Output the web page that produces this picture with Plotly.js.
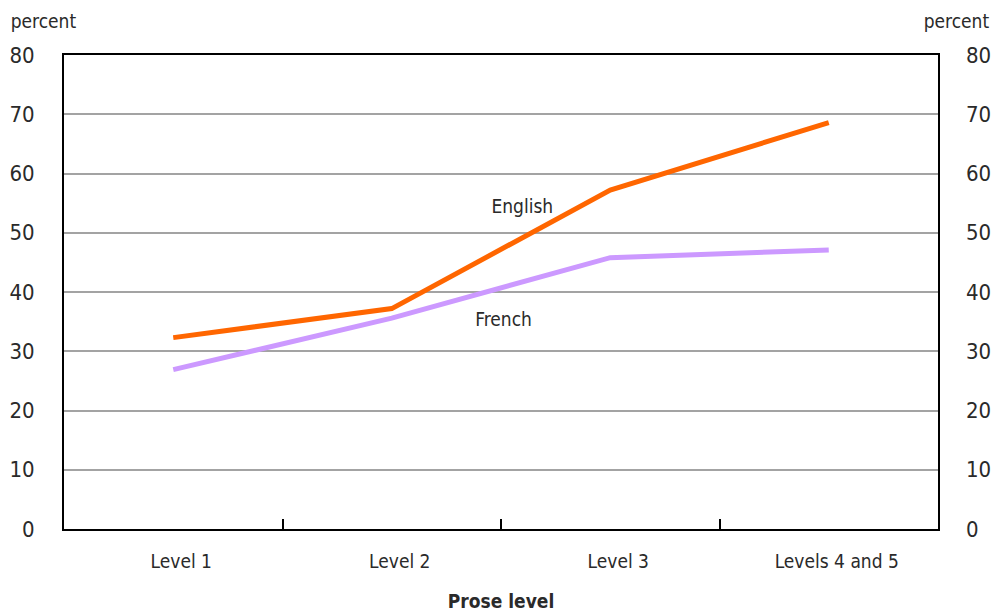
<!DOCTYPE html>
<html>
<head>
<meta charset="utf-8">
<script src="https://cdn.plot.ly/plotly-3.0.1.min.js"></script>
<style>
html,body{margin:0;padding:0;background:#fff;}
#chart{width:995px;height:612px;}
#chart svg text{font-stretch:condensed !important;}
</style>
</head>
<body>
<div id="chart"></div>
<script>
const categories = ["Level 1", "Level 2", "Level 3", "Levels 4 and 5"];
const english = [32.3, 37.2, 57.2, 68.6];
const french = [26.9, 35.6, 45.8, 47.1];
const seriesNames = ["English", "French"];
const yTicks = [0, 10, 20, 30, 40, 50, 60, 70, 80];

const FONT = '"DejaVu Sans", sans-serif';
const TXT = '#2a2a2a';

const traces = [
  {x: categories, y: english, name: seriesNames[0], type: 'scatter', mode: 'lines',
   line: {color: '#FF6600', width: 5}, hoverinfo: 'skip'},
  {x: categories, y: french, name: seriesNames[1], type: 'scatter', mode: 'lines',
   line: {color: '#CC99FF', width: 5}, hoverinfo: 'skip'},
  {x: categories, y: english, type: 'scatter', mode: 'lines', yaxis: 'y2',
   line: {width: 0}, opacity: 0, showlegend: false, hoverinfo: 'skip'}
];

const layout = {
  width: 995, height: 612,
  margin: {l: 64, r: 57, t: 55, b: 83},
  paper_bgcolor: '#fff', plot_bgcolor: '#fff',
  showlegend: false,
  font: {family: FONT, size: 19, color: TXT},
  xaxis: {
    type: 'category', range: [-0.5, 3.5], tickson: 'boundaries', ticks: 'inside', ticklen: 10, tickwidth: 2,
    tickcolor: '#000', showline: true, linecolor: '#000', linewidth: 2, mirror: true,
    showgrid: false, zeroline: false, tickfont: {family: FONT, size: 19, color: TXT},
    ticklabelstandoff: 14, ticklabelshift: 8,
    title: {text: '<b>Prose level</b>', font: {family: FONT, size: 19, color: TXT}, standoff: 24}
  },
  yaxis: {
    range: [0, 80], tickvals: yTicks, ticktext: yTicks.map(String), ticks: '',
    showline: true, linecolor: '#000', linewidth: 2, mirror: true,
    showgrid: true, gridcolor: '#a3a3a3', gridwidth: 2, zeroline: false,
    tickfont: {family: FONT, size: 22, color: TXT}, ticklabelstandoff: 23
  },
  yaxis2: {
    range: [0, 80], tickvals: yTicks, ticktext: yTicks.map(String), ticks: '',
    overlaying: 'y', side: 'right', showline: false, showgrid: false, zeroline: false,
    tickfont: {family: FONT, size: 22, color: TXT}, ticklabelstandoff: 27
  },
  annotations: [
    {text: 'percent', xref: 'paper', yref: 'paper', x: -0.024, y: 1.0, yshift: 21,
     xanchor: 'center', yanchor: 'bottom', showarrow: false, font: {family: FONT, size: 19, color: TXT}},
    {text: 'percent', xref: 'paper', yref: 'paper', x: 1.021, y: 1.0, yshift: 21,
     xanchor: 'center', yanchor: 'bottom', showarrow: false, font: {family: FONT, size: 19, color: TXT}},
    {text: seriesNames[0], xref: 'x', yref: 'y', x: 1.6, y: 54.5, showarrow: false,
     font: {family: FONT, size: 19, color: TXT}},
    {text: seriesNames[1], xref: 'x', yref: 'y', x: 1.51, y: 35.5, showarrow: false,
     font: {family: FONT, size: 19, color: TXT}}
  ]
};

Plotly.newPlot('chart', traces, layout, {displayModeBar: false, staticPlot: true});
</script>
</body>
</html>
